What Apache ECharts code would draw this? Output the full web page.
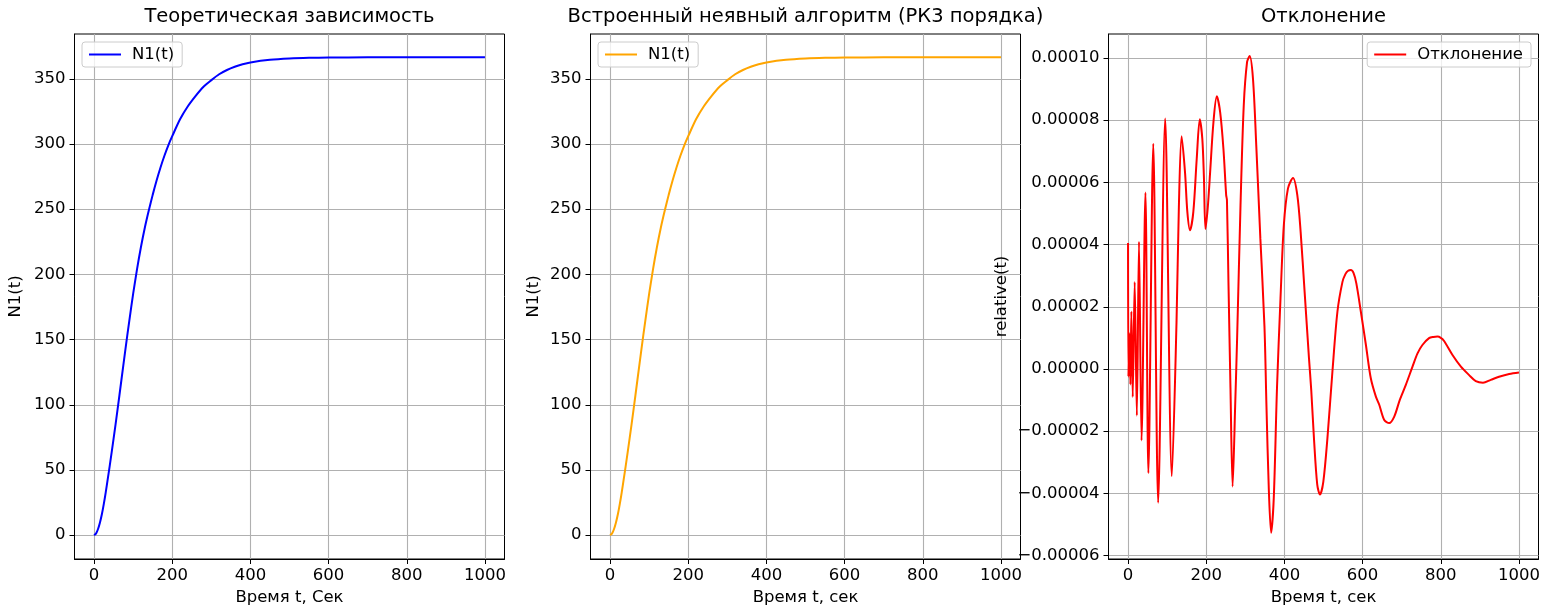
<!DOCTYPE html>
<html lang="ru">
<head>
    <meta charset="UTF-8"/>
    <title>N1(t)</title>
    <script src="https://cdn.jsdelivr.net/npm/echarts@6/dist/echarts.min.js"></script>
    <style>
        html, body { margin: 0; padding: 0; background: #fff; }
    </style>
</head>
<body>

<div id="main" style="width: 1548px;height:609px;"></div>

<script type="text/javascript">
    // теоретическая зависимость N1(t)
    var tTheory = [0, 5, 10, 15, 20, 25, 30, 35, 40, 50, 60, 70, 80, 90, 100, 110, 120, 130, 140, 150,
        160, 170, 180, 190, 200, 220, 240, 260, 280, 300, 320, 340, 360, 380, 400, 450, 500, 550, 600,
        700, 800, 900, 1000];
    var nTheory = [0, 1.2, 4.5, 9.5, 16, 24, 33, 43, 53, 74, 96, 119, 142, 164, 185, 204, 221, 236, 249, 261,
        272, 282, 291, 299, 306, 319, 329, 337, 344, 349, 353.5, 356.8, 359.3, 361.2, 362.6, 364.6, 365.6, 366.1, 366.3,
        366.5, 366.5, 366.5, 366.5];

    // встроенный неявный алгоритм (РК3)
    var tRk3 = [0, 5, 10, 15, 20, 25, 30, 35, 40, 50, 60, 70, 80, 90, 100, 110, 120, 130, 140, 150,
        160, 170, 180, 190, 200, 220, 240, 260, 280, 300, 320, 340, 360, 380, 400, 450, 500, 550, 600,
        700, 800, 900, 1000];
    var nRk3 = [0, 1.2, 4.5, 9.5, 16, 24, 33, 43, 53, 74, 96, 119, 142, 164, 185, 204, 221, 236, 249, 261,
        272, 282, 291, 299, 306, 319, 329, 337, 344, 349, 353.5, 356.8, 359.3, 361.2, 362.6, 364.6, 365.6, 366.1, 366.3,
        366.5, 366.5, 366.5, 366.5];

    // отклонение
    var tDev = [0, 1, 3.5, 6, 8.5, 12, 17, 22.5, 28, 34.5, 44.5, 52, 64.5, 77, 95, 112, 124, 130, 137,
        145.7, 151.7, 158.5, 167, 175.7, 183.5, 190, 194, 198, 204, 210, 218.5, 227, 235.6, 244, 251, 253,
        257, 262, 267.5, 274, 279, 287.7, 296, 304.5, 311, 319.6, 328, 338.5, 349, 354, 360, 366, 372.8,
        381, 390, 398.5, 409, 422, 433, 441.5, 451.7, 462.9, 468.6, 475.6, 484, 491, 499.6, 510, 522.8,
        535.6, 548.5, 556, 563, 570, 577, 584, 595.6, 608.5, 621, 634, 642.6, 655.4, 668, 681, 695, 710.6, 727.7,
        740.5, 753, 770, 781, 791.5, 800, 808.5, 830, 851.5, 872, 889.6, 908, 927.8, 949, 975, 1000];
    var vDev = [4.05e-5, -0.25e-5, 1.15e-5, -0.5e-5, 1.85e-5, -0.9e-5, 2.8e-5, -1.5e-5, 4.09e-5, -2.3e-5,
        5.67e-5, -3.35e-5, 7.24e-5, -4.3e-5, 8.05e-5, -3.45e-5, 1.5e-5, 5.2e-5, 7.48e-5,
        6.33e-5, 5.05e-5, 4.46e-5, 5.05e-5, 6.76e-5, 8.03e-5, 7.4e-5, 6.2e-5, 4.5e-5, 5.2e-5, 6.33e-5, 7.94e-5,
        8.77e-5, 8.26e-5, 7.08e-5, 5.59e-5, 5.43e-5,
        2.7e-5, -0.6e-5, -3.78e-5, -1.2e-5, 0.98e-5, 5.26e-5, 8.47e-5, 9.87e-5, 10.06e-5, 9.33e-5, 7.19e-5,
        4.19e-5, 1.36e-5, -1.15e-5, -3.83e-5, -5.27e-5, -4.15e-5,
        -0.62e-5, 2.27e-5, 4.62e-5, 5.8e-5, 6.14e-5, 5.59e-5, 4.41e-5, 2.48e-5, 0.34e-5, -0.67e-5, -2.23e-5,
        -3.72e-5, -4.04e-5, -3.62e-5, -2.23e-5, -0.09e-5,
        1.84e-5, 2.8e-5, 3.05e-5, 3.16e-5, 3.18e-5, 3.08e-5, 2.75e-5, 1.84e-5, 0.77e-5, -0.3e-5, -0.89e-5, -1.15e-5, -1.64e-5,
        -1.74e-5, -1.53e-5, -1.0e-5, -0.51e-5, 0.075e-5,
        0.5e-5, 0.77e-5, 0.99e-5, 1.03e-5, 1.04e-5, 1.0e-5, 0.9e-5, 0.45e-5, 0.075e-5, -0.19e-5, -0.39e-5, -0.44e-5,
        -0.35e-5, -0.25e-5, -0.16e-5, -0.11e-5];

    // подписи осей
    var xTicks = [0, 200, 400, 600, 800, 1000];
    var nTicks = [0, 50, 100, 150, 200, 250, 300, 350];
    var devTicks = [-0.00006, -0.00004, -0.00002, 0, 0.00002, 0.00004, 0.00006, 0.00008, 0.0001];

    var titles = ['Теоретическая зависимость', 'Встроенный неявный алгоритм (РК3 порядка)', 'Отклонение'];
    var xNames = ['Время t, Сек', 'Время t, сек', 'Время t, сек'];
    var yNames = ['N1(t)', 'N1(t)', 'relative(t)'];
    var seriesNames = ['N1(t)', 'N1(t) ', 'Отклонение'];

    var font = 'DejaVu Sans';
    var fs = 16.5;

    function pairs(xs, ys) {
        var out = [];
        for (var i = 0; i < xs.length; i++) {
            out.push([xs[i], ys[i]]);
        }
        return out;
    }

    var grids = [
        {left: 74.5, top: 34, width: 430, height: 525},
        {left: 590.5, top: 34, width: 430, height: 525},
        {left: 1108.5, top: 34, width: 430, height: 525}
    ];
    grids.forEach(function (g) {
        g.show = true;
        g.borderColor = '#000';
        g.borderWidth = 1;
        g.backgroundColor = '#fff';
        g.containLabel = false;
        g.outerBoundsMode = 'none';
    });

    function xAxis(i) {
        return {
            type: 'value',
            gridIndex: i,
            min: -50,
            max: 1050,
            name: xNames[i],
            nameLocation: 'middle',
            nameGap: 29,
            nameTextStyle: {fontFamily: font, fontSize: fs, color: '#000'},
            axisLine: {show: true, onZero: false, lineStyle: {color: '#000', width: 1}},
            axisTick: {show: true, customValues: xTicks, length: 5, lineStyle: {color: '#000'}},
            axisLabel: {
                customValues: xTicks, margin: 8, fontFamily: font, fontSize: fs, color: '#000',
                formatter: function (v) { return String(v); }
            },
            splitLine: {show: true, lineStyle: {color: '#b0b0b0', width: 1.1}}
        };
    }

    function yAxis(i, min, max, ticks, fmt, gap) {
        return {
            type: 'value',
            gridIndex: i,
            min: min,
            max: max,
            name: yNames[i],
            nameLocation: 'middle',
            nameGap: gap,
            nameTextStyle: {fontFamily: font, fontSize: fs, color: '#000'},
            axisLine: {show: true, onZero: false, lineStyle: {color: '#000', width: 1}},
            axisTick: {show: true, customValues: ticks, length: 5, lineStyle: {color: '#000'}},
            axisLabel: {customValues: ticks, margin: 9, fontFamily: font, fontSize: fs, color: '#000', formatter: fmt},
            splitLine: {show: true, lineStyle: {color: '#b0b0b0', width: 1.1}}
        };
    }

    var devFmt = function (v) {
        return v.toFixed(5).replace('-', '\u2212');
    };
    var nFmt = function (v) {
        return String(Math.round(v));
    };

    var centers = [289.5, 805.5, 1323.5];

    var option = {
        animation: false,
        backgroundColor: '#fff',
        title: titles.map(function (t, i) {
            return {
                text: t,
                left: centers[i],
                top: 7,
                padding: 0,
                textAlign: 'center',
                textStyle: {fontFamily: font, fontSize: 19.5, fontWeight: 'normal', color: '#000'}
            };
        }),
        legend: [
            {left: 82, top: 42},
            {left: 598, top: 42},
            {right: 17, top: 42}
        ].map(function (l, i) {
            l.data = [seriesNames[i]];
            l.orient = 'vertical';
            l.padding = [4, 8, 4, 6];
            l.itemWidth = 32;
            l.itemHeight = 14;
            l.itemStyle = {opacity: 0};
            l.borderColor = '#cccccc';
            l.borderWidth = 1;
            l.borderRadius = 3;
            l.backgroundColor = 'rgba(255,255,255,0.8)';
            l.selectedMode = false;
            l.textStyle = {fontFamily: font, fontSize: fs, color: '#000', padding: [0, 0, 0, 6]};
            l.formatter = function (name) {
                return name.trim();
            };
            return l;
        }),
        grid: grids,
        xAxis: [xAxis(0), xAxis(1), xAxis(2)],
        yAxis: [
            yAxis(0, -18.3, 384.4, nTicks, nFmt, 50),
            yAxis(1, -18.3, 384.4, nTicks, nFmt, 48),
            yAxis(2, -0.0000611, 0.0001077, devTicks, devFmt, 98)
        ],
        series: [
            {
                name: seriesNames[0],
                type: 'line',
                xAxisIndex: 0,
                yAxisIndex: 0,
                data: pairs(tTheory, nTheory),
                smooth: 0.3,
                symbol: 'none',
                color: '#0000ff',
                lineStyle: {color: '#0000ff', width: 2}
            },
            {
                name: seriesNames[1],
                type: 'line',
                xAxisIndex: 1,
                yAxisIndex: 1,
                data: pairs(tRk3, nRk3),
                smooth: 0.3,
                symbol: 'none',
                color: '#ffa500',
                lineStyle: {color: '#ffa500', width: 2}
            },
            {
                name: seriesNames[2],
                type: 'line',
                xAxisIndex: 2,
                yAxisIndex: 2,
                data: pairs(tDev, vDev),
                smooth: 0.3,
                symbol: 'none',
                color: '#ff0000',
                lineStyle: {color: '#ff0000', width: 2}
            }
        ]
    };

    var myChart = echarts.init(document.getElementById('main'));
    myChart.setOption(option);
</script>
</body>
</html>
